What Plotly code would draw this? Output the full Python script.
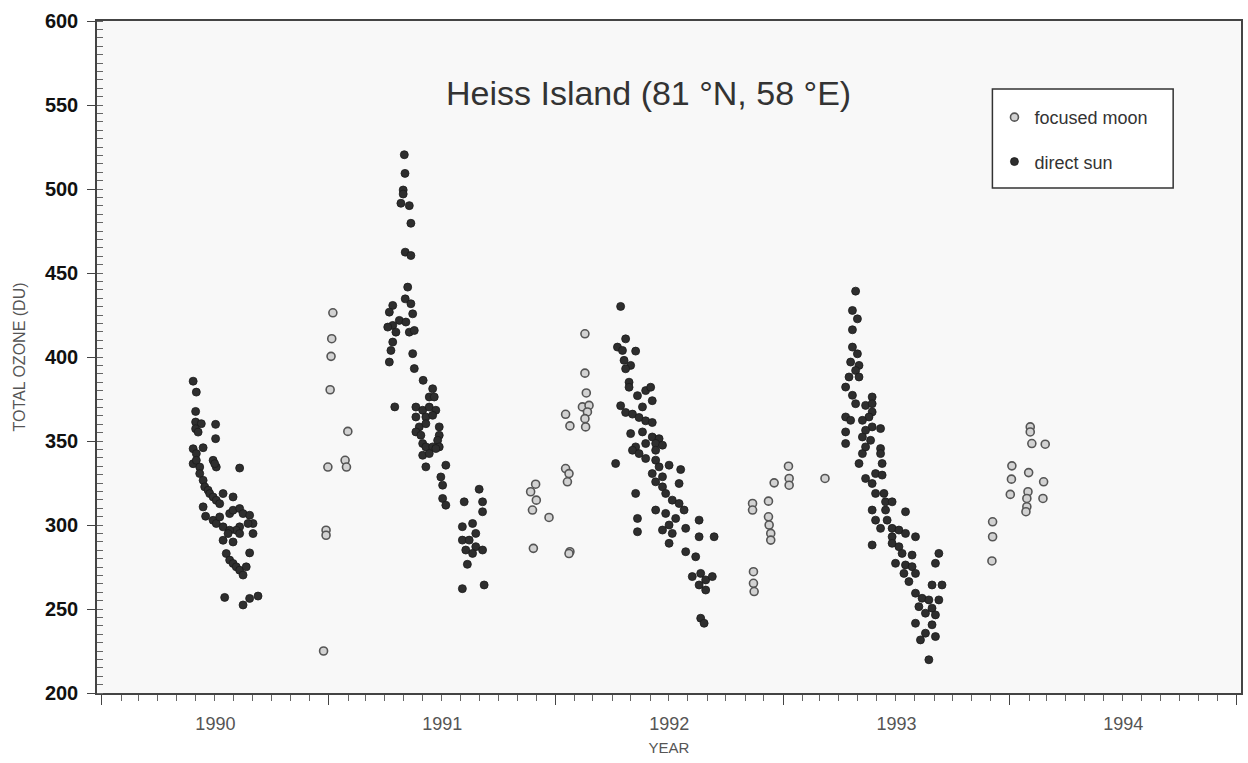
import plotly.graph_objects as go
from datetime import datetime, timedelta

# ---------------- data (decimal year, total ozone DU) ----------------
sun_1990_year = [1990.402,1990.416,1990.413,1990.413,1990.438,1990.413,1990.424,1990.501,1990.501,1990.402,
                 1990.446,1990.416,1990.402,1990.416,1990.431,1990.490,1990.504,1990.497,1990.607,1990.431,
                 1990.446,1990.453,1990.468,1990.475,1990.490,1990.504,1990.519,1990.534,1990.578,1990.446,
                 1990.457,1990.490,1990.504,1990.519,1990.534,1990.563,1990.578,1990.607,1990.622,1990.651,
                 1990.666,1990.644,1990.607,1990.592,1990.563,1990.556,1990.534,1990.578,1990.607,1990.666,
                 1990.548,1990.563,1990.578,1990.592,1990.607,1990.622,1990.636,1990.651,1990.541,1990.622,
                 1990.651,1990.688]
sun_1990_du = [385.6,379.1,367.6,361.3,360.3,357.3,355.3,359.9,351.4,345.4,
               346.0,342.5,336.5,338.5,334.5,338.5,334.5,336.5,333.9,330.6,
               326.6,322.7,320.7,318.7,316.7,314.7,312.7,318.7,316.7,310.8,
               305.2,302.8,300.9,304.8,298.9,306.8,308.8,309.8,306.8,305.8,
               300.9,300.9,298.9,296.9,296.9,294.9,290.9,289.9,294.9,294.9,
               283.0,279.1,277.1,275.1,273.1,270.2,275.1,283.4,256.9,252.4,
               256.3,257.7]

sun_1991_year = [1991.333,1991.336,1991.328,1991.328,1991.318,1991.355,1991.362,1991.337,1991.362,1991.348,
                 1991.337,1991.362,1991.282,1991.267,1991.311,1991.370,1991.282,1991.260,1991.296,1991.340,
                 1991.355,1991.377,1991.282,1991.274,1991.267,1991.370,1991.377,1991.416,1991.291,
                 1991.458,1991.443,1991.465,1991.384,1991.414,1991.443,1991.472,1991.384,1991.428,1991.458,
                 1991.399,1991.428,1991.384,1991.406,1991.487,1991.487,1991.480,1991.414,1991.428,1991.458,
                 1991.487,1991.414,1991.443,1991.472,1991.428,1991.516,1991.494,1991.502,1991.502,1991.516,
                 1991.597,1991.663,1991.678,1991.678,1991.589,1991.634,1991.648,1991.589,1991.619,1991.648,
                 1991.604,1991.678,1991.634,1991.611,1991.589,1991.685]
sun_1991_du = [520.4,509.3,499.4,497.0,491.5,490.1,479.6,462.4,460.4,441.6,
               434.6,431.7,430.7,426.7,421.8,425.7,418.8,417.8,414.8,420.8,
               414.8,415.8,408.9,403.9,397.0,402.0,393.1,386.1,370.3,
               381.1,376.2,376.2,370.2,368.3,370.2,368.3,364.3,364.3,365.3,
               358.4,360.3,355.4,353.4,358.4,353.4,350.4,348.5,346.5,346.5,
               346.5,341.5,342.5,345.5,334.6,335.6,328.6,323.7,315.8,311.8,
               313.8,321.3,313.8,307.9,299.0,300.9,295.0,291.0,291.0,287.1,
               285.1,285.1,283.1,276.6,262.1,264.3]

sun_1992_year = [1992.286,1992.308,1992.272,1992.294,1992.352,1992.301,1992.330,1992.308,1992.323,1992.323,
                 1992.360,1992.396,1992.418,1992.425,1992.382,1992.286,1992.308,1992.338,1992.367,1992.396,
                 1992.425,1992.330,1992.382,1992.425,1992.455,1992.440,1992.396,1992.352,1992.338,1992.367,
                 1992.396,1992.440,1992.470,1992.440,1992.455,1992.499,1992.550,1992.425,1992.470,1992.440,
                 1992.543,1992.470,1992.484,1992.513,1992.543,1992.565,1992.440,1992.484,1992.528,1992.499,
                 1992.470,1992.513,1992.572,1992.631,1992.631,1992.697,1992.499,1992.572,1992.616,1992.638,
                 1992.601,1992.631,1992.660,1992.689,1992.660,1992.638,1992.653,1992.352,1992.360,1992.360,
                 1992.264]
sun_1992_du = [430.1,410.8,405.9,403.9,403.5,398.0,395.0,393.0,385.0,382.0,
               377.0,380.0,382.0,374.0,370.3,371.0,367.0,366.0,364.0,362.0,
               361.0,354.4,355.4,352.4,351.4,348.5,348.5,346.5,344.5,342.5,
               339.6,344.5,347.5,338.6,334.6,335.6,333.0,330.6,328.7,325.7,
               324.7,322.7,318.8,314.8,312.8,308.9,308.9,306.9,303.9,300.0,
               297.0,295.0,298.0,302.9,293.0,293.0,289.1,284.1,281.1,271.2,
               269.3,264.3,267.3,269.3,261.3,244.5,241.5,318.8,303.9,296.0,
               336.6]

sun_1993_year = [1993.320,1993.306,1993.328,1993.306,1993.306,1993.328,1993.298,1993.335,1993.320,1993.335,
                 1993.291,1993.276,1993.306,1993.393,1993.320,1993.364,1993.393,1993.393,1993.379,1993.350,
                 1993.276,1993.298,1993.393,1993.430,1993.364,1993.350,1993.276,1993.386,1993.364,1993.430,
                 1993.430,1993.350,1993.335,1993.437,1993.276,1993.364,1993.408,1993.437,1993.393,1993.408,
                 1993.445,1993.452,1993.481,1993.393,1993.452,1993.540,1993.408,1993.459,1993.430,1993.481,
                 1993.511,1993.540,1993.584,1993.481,1993.393,1993.481,1993.511,1993.525,1993.569,1993.496,
                 1993.540,1993.569,1993.584,1993.533,1993.555,1993.687,1993.672,1993.657,1993.701,1993.584,
                 1993.613,1993.643,1993.687,1993.599,1993.657,1993.628,1993.672,1993.584,1993.657,1993.628,
                 1993.672,1993.606,1993.643]
sun_1993_du = [439.2,427.7,422.7,416.2,405.9,401.9,397.0,395.0,392.0,388.1,
               388.1,382.1,377.2,376.2,372.2,371.2,372.2,367.3,364.3,362.3,
               364.3,362.3,358.4,357.4,356.4,352.4,355.4,350.4,346.5,345.5,
               342.5,342.5,336.6,336.6,348.5,327.7,330.6,329.7,324.7,318.8,
               318.8,313.8,313.8,308.9,308.9,307.9,302.9,302.9,298.0,298.0,
               297.0,295.0,293.0,293.0,288.1,289.1,287.1,283.1,282.1,277.2,
               276.2,275.2,271.2,271.2,266.3,283.1,277.2,264.3,264.3,259.4,
               256.4,255.4,255.4,251.4,250.5,247.5,246.5,241.5,240.6,235.6,
               233.6,231.6,219.8]

moon_1991_year = [1991.018,1991.013,1991.010,1991.006,1991.084,1991.072,1991.078,1990.996,1990.988,1990.988,1990.977]
moon_1991_du = [426.3,410.9,400.4,380.5,355.7,338.5,334.5,334.5,296.9,293.9,225.0]

moon_1992_year = [1992.129,1992.129,1992.135,1992.118,1992.147,1992.140,1992.129,1992.132,1992.044,1992.063,
                  1992.044,1992.059,1992.052,1991.912,1991.890,1991.915,1991.898,1991.971,1991.902,1992.063,
                  1992.059]
moon_1992_du = [413.8,390.4,378.6,370.3,371.2,367.3,363.3,358.4,365.9,359.0,
                333.6,330.6,325.7,324.3,319.8,314.8,308.9,304.5,286.1,284.1,
                283.0]

moon_1993_year = [1993.024,1992.961,1993.027,1993.027,1993.185,1992.866,1992.866,1992.936,1992.936,1992.939,
                  1992.946,1992.946,1992.870,1992.870,1992.873]
moon_1993_du = [335.0,325.1,327.7,323.7,327.7,312.8,308.9,314.2,304.9,300.0,
                295.0,291.0,272.2,265.3,260.4]

moon_1994_year = [1994.090,1994.090,1994.097,1994.156,1994.009,1994.007,1994.002,1994.083,1994.149,1994.080,
                  1994.075,1994.075,1994.071,1994.146,1993.924,1993.924,1993.921]
moon_1994_du = [358.4,355.4,348.5,348.1,335.2,327.3,318.2,331.2,325.7,319.8,
                315.8,310.9,307.9,315.8,301.9,293.0,278.6]


def to_date(y):
    yr = int(y)
    start = datetime(yr, 1, 1)
    span = (datetime(yr + 1, 1, 1) - start).total_seconds()
    return start + timedelta(seconds=(y - yr) * span)


moon_x = [to_date(v) for v in moon_1991_year + moon_1992_year + moon_1993_year + moon_1994_year]
moon_y = moon_1991_du + moon_1992_du + moon_1993_du + moon_1994_du
sun_x = [to_date(v) for v in sun_1990_year + sun_1991_year + sun_1992_year + sun_1993_year]
sun_y = sun_1990_du + sun_1991_du + sun_1992_du + sun_1993_du

fig = go.Figure()
fig.add_trace(go.Scatter(
    x=moon_x, y=moon_y, mode="markers", name="focused moon", legendgroup="moon",
    marker=dict(symbol="circle", size=8, color="#d2d2d2", line=dict(color="#555", width=1.6)),
))
fig.add_trace(go.Scatter(
    x=sun_x, y=sun_y, mode="markers", name="direct sun", legendgroup="sun",
    marker=dict(symbol="circle", size=8, color="#2e2e2e", line=dict(color="#1a1a1a", width=0.8)),
))

fig.update_layout(
    width=1248, height=763,
    margin=dict(l=97, r=5, t=21, b=70),
    paper_bgcolor="white",
    plot_bgcolor="#f8f8f8",
    font=dict(family="Liberation Sans, Arial, sans-serif", color="#333"),
    showlegend=True,
    legend=dict(
        x=0.7845, y=0.884, xanchor="left", yanchor="top",
        bgcolor="rgba(0,0,0,0)", borderwidth=0,
        font=dict(size=18, color="#333"),
        tracegroupgap=18, itemsizing="trace",
    ),
    shapes=[dict(
        type="rect", xref="paper", yref="paper", layer="below",
        x0=0.7827, x1=0.9407, y0=0.7515, y1=0.8988,
        fillcolor="white", line=dict(color="#333", width=1.5),
    )],
    annotations=[dict(
        text="Heiss Island (81 °N, 58 °E)", xref="paper", yref="paper",
        x=0.482, y=0.893, showarrow=False, xanchor="center", yanchor="middle",
        font=dict(size=34, color="#333", family="Liberation Sans, Arial, sans-serif"),
    )],
)

fig.update_xaxes(
    type="date",
    range=["1989-12-24", "1995-01-08"],
    tick0="1990-01-01", dtick="M12", tickformat="%Y",
    ticklabelmode="period",
    ticks="outside", ticklen=10, tickwidth=1.3, tickcolor="#444",
    ticklabelstandoff=4,
    tickfont=dict(size=18, color="#555"),
    minor=dict(dtick="M1", ticks="outside", ticklen=6, tickwidth=1, tickcolor="#666", showgrid=False),
    showline=True, linecolor="#444", linewidth=1.5, mirror=True,
    showgrid=False, zeroline=False,
    title=dict(text="YEAR", font=dict(size=15, color="#555"), standoff=9),
)

fig.update_yaxes(
    range=[200, 600],
    tick0=200, dtick=50,
    ticks="outside", ticklen=8, tickwidth=1.3, tickcolor="#444",
    ticklabelstandoff=5,
    tickfont=dict(size=20, color="#111", weight="bold"),
    minor=dict(dtick=5, ticks="inside", ticklen=6, tickwidth=1, tickcolor="#666", showgrid=False),
    showline=True, linecolor="#444", linewidth=1.5, mirror=True,
    showgrid=False, zeroline=False,
    title=dict(text="TOTAL OZONE (DU)", font=dict(size=16, color="#555"), standoff=15),
)

fig.write_html("out.html")
